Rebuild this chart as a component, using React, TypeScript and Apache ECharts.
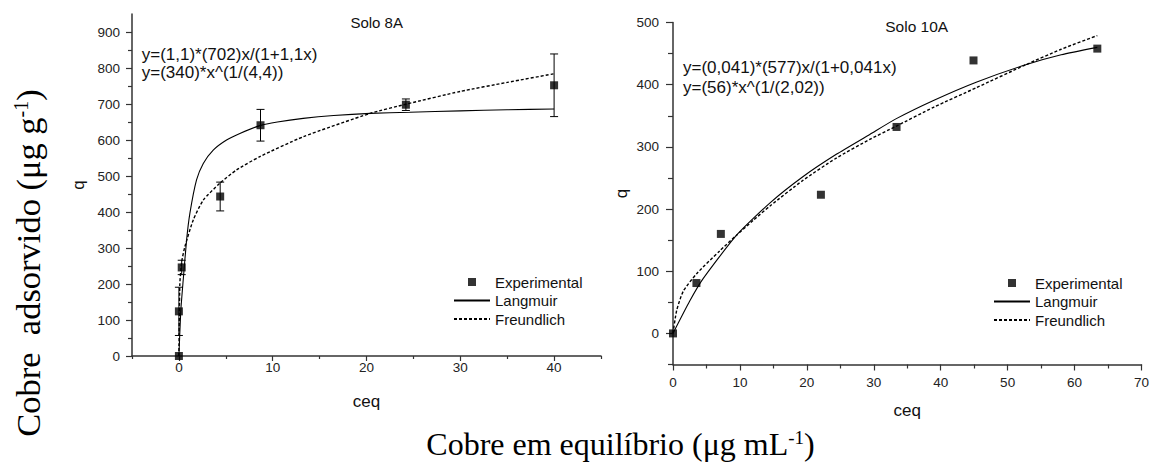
import React, { useEffect, useRef } from "react";
import * as echarts from "echarts";

// ---- Solo 8A (left) ----
const solo8Ceq = [0, 0, 0.3, 4.4, 8.7, 24.2, 40];
const solo8Q = [0, 124, 246, 443, 641, 698, 752];
const solo8Err = [0, 67, 20, 40, 44, 16, 87];
const solo8LangX = [0, 0.2, 0.46, 0.82, 1.17, 1.88, 2.6, 3.66, 5.08, 6.5, 8.64, 10.5, 13.25, 16.5, 20.4, 24.6, 30, 35, 40];
const solo8LangQ = [0, 125, 211, 322, 396, 489, 535, 572, 600, 618, 640, 650, 660, 668, 674, 677, 681, 684, 686];
const solo8FreX = [0, 0.1, 0.3, 0.64, 1.53, 2.6, 4.37, 6.15, 8.64, 13.25, 20.4, 24.3, 30, 35, 40];
const solo8FreQ = [0, 200, 262, 304, 378, 433, 480, 517, 554, 609, 674, 700, 735, 760, 784];

// ---- Solo 10A (right) ----
const solo10Ceq = [0, 3.5, 7.15, 22.1, 33.4, 44.9, 63.4];
const solo10Q = [0, 81, 160, 223, 332, 439, 458];
const solo10LangX = [0, 2.5, 4.5, 9.5, 14.5, 19.4, 24.4, 29.4, 33.3, 39, 45.3, 52.7, 58, 63.4];
const solo10LangQ = [0, 52, 88, 158, 210, 252, 288, 320, 345, 375, 404, 432, 448, 460];
const solo10FreX = [0, 0.55, 1.54, 3.53, 7.0, 9.5, 12, 14.5, 19.4, 24.4, 29.4, 33.3, 39, 45.3, 52.7, 58, 63.4];
const solo10FreQ = [0, 37, 68, 96, 133, 158, 182, 205, 246, 282, 312, 333, 364, 395, 432, 457, 479];

// ---- ticks ----
const leftXMajor = [0, 10, 20, 30, 40];
const leftXMinor = [-5, 5, 15, 25, 35, 45];
const leftYMajor = [0, 100, 200, 300, 400, 500, 600, 700, 800, 900];
const leftYMinor = [50, 150, 250, 350, 450, 550, 650, 750, 850];
const rightXMajor = [0, 10, 20, 30, 40, 50, 60, 70];
const rightXMinor = [5, 15, 25, 35, 45, 55, 65];
const rightYMajor = [0, 100, 200, 300, 400, 500];
const rightYMinor = [-50, 50, 150, 250, 350, 450];

const legendNames = ["Experimental", "Langmuir", "Freundlich"];

const SANS = "Liberation Sans, Arial, sans-serif";
const SERIF = "Liberation Serif, Times New Roman, serif";
const AX = "#333";

function zip(xs: number[], ys: number[]) {
  return xs.map((x, i) => [x, ys[i]]);
}

function majorAxis(grid: number, min: number, max: number, ticks: number[], isX: boolean, opts: any) {
  return {
    type: "value",
    gridIndex: grid,
    min,
    max,
    position: isX ? "bottom" : "left",
    splitLine: { show: false },
    axisLine: { show: true, onZero: false, lineStyle: { color: AX, width: 1.5 } },
    axisTick: { show: true, customValues: ticks, length: opts.tickLen, lineStyle: { color: AX, width: 1.2 } },
    axisLabel: {
      show: true,
      customValues: ticks,
      margin: opts.margin,
      fontFamily: SANS,
      fontSize: 13.5,
      color: "#222",
    },
    name: opts.name,
    nameLocation: "middle",
    nameGap: opts.nameGap,
    nameTextStyle: { fontFamily: SANS, fontSize: 17, color: "#111" },
  };
}

function minorAxis(grid: number, min: number, max: number, ticks: number[], isX: boolean, len: number) {
  return {
    type: "value",
    gridIndex: grid,
    min,
    max,
    position: isX ? "bottom" : "left",
    offset: 0,
    splitLine: { show: false },
    axisLine: { show: false, onZero: false },
    axisTick: { show: true, customValues: ticks, length: len, lineStyle: { color: AX, width: 1.2 } },
    axisLabel: { show: false },
  };
}

function errorBarRender(params: any, api: any) {
  const x = api.value(0);
  const y = api.value(1);
  const e = api.value(2);
  if (!e) return null;
  const top = api.coord([x, y + e]);
  const bot = api.coord([x, y - e]);
  const hw = 4;
  const st = { stroke: "#000", lineWidth: 1 };
  return {
    type: "group",
    children: [
      { type: "line", shape: { x1: top[0], y1: top[1], x2: bot[0], y2: bot[1] }, style: st },
      { type: "line", shape: { x1: top[0] - hw, y1: top[1], x2: top[0] + hw, y2: top[1] }, style: st },
      { type: "line", shape: { x1: bot[0] - hw, y1: bot[1], x2: bot[0] + hw, y2: bot[1] }, style: st },
    ],
  };
}

function seriesFor(xi: number, yi: number, sx: number[], sq: number[], lx: number[], lq: number[], fx: number[], fq: number[], err?: number[]) {
  const out: any[] = [];
  out.push({
    name: "Langmuir",
    type: "line",
    xAxisIndex: xi,
    yAxisIndex: yi,
    data: zip(lx, lq),
    symbol: "none",
    smooth: 0.2,
    lineStyle: { color: "#000", width: 1.1, type: "solid" },
    itemStyle: { color: "#000" },
    z: 3,
  });
  out.push({
    name: "Freundlich",
    type: "line",
    xAxisIndex: xi,
    yAxisIndex: yi,
    data: zip(fx, fq),
    symbol: "none",
    smooth: 0.2,
    lineStyle: { color: "#000", width: 1.4, type: [3, 2] },
    itemStyle: { color: "#000" },
    z: 3,
  });
  if (err) {
    out.push({
      name: "errbar",
      type: "custom",
      xAxisIndex: xi,
      yAxisIndex: yi,
      data: sx.map((x, i) => [x, sq[i], err[i]]),
      renderItem: errorBarRender,
      encode: { x: 0, y: 1 },
      z: 4,
    });
  }
  out.push({
    name: "Experimental",
    type: "scatter",
    xAxisIndex: xi,
    yAxisIndex: yi,
    data: zip(sx, sq),
    symbol: "rect",
    symbolSize: 8,
    itemStyle: { color: "#000" },
    z: 5,
  });
  return out;
}

function legendAt(left: number, top: number) {
  return {
    orient: "vertical",
    left,
    top,
    padding: 0,
    itemWidth: 36,
    itemHeight: 8,
    itemGap: 3.5,
    selectedMode: false,
    data: [
      { name: legendNames[0], icon: "path://M0,0L8,0L8,8L0,8Z", itemStyle: { color: "#000" } },
      { name: legendNames[1], itemStyle: { color: "rgba(0,0,0,0)", borderWidth: 0 } },
      { name: legendNames[2], itemStyle: { color: "rgba(0,0,0,0)", borderWidth: 0 } },
    ],
    textStyle: { fontFamily: SANS, fontSize: 15, lineHeight: 15, color: "#111" },
  };
}

function txt(x: number, y: number, text: string, fontSize: number, align = "left") {
  return {
    type: "text",
    x,
    y,
    style: {
      text,
      fontFamily: SANS,
      fontSize,
      fill: "#111",
      align,
      verticalAlign: "middle",
    },
  };
}

export default function App() {
  const ref = useRef<HTMLDivElement>(null);
  useEffect(() => {
    if (!ref.current) return;
    const chart = echarts.init(ref.current, undefined, { renderer: "svg" });
    const option: any = {
      animation: false,
      backgroundColor: "#fff",
      textStyle: { fontFamily: SANS },
      grid: [
        { left: 132, top: 14, width: 469, height: 342 },
        { left: 673, top: 22.5, width: 470, height: 342 },
      ],
      xAxis: [
        majorAxis(0, -5, 45, leftXMajor, true, { tickLen: 5, margin: 4, name: "ceq", nameGap: 37 }),
        minorAxis(0, -5, 45, leftXMinor, true, 3),
        majorAxis(1, 0, 70, rightXMajor, true, { tickLen: 6, margin: 11, name: "ceq", nameGap: 37 }),
        minorAxis(1, 0, 70, rightXMinor, true, 4),
      ],
      yAxis: [
        majorAxis(0, 0, 950, leftYMajor, false, { tickLen: 6, margin: 12, name: "q", nameGap: 45 }),
        minorAxis(0, 0, 950, leftYMinor, false, 4),
        majorAxis(1, -50, 500, rightYMajor, false, { tickLen: 7, margin: 14, name: "q", nameGap: 43 }),
        minorAxis(1, -50, 500, rightYMinor, false, 5),
      ],
      legend: [legendAt(453, 274.5), legendAt(993, 275.5)],
      series: [
        ...seriesFor(0, 0, solo8Ceq, solo8Q, solo8LangX, solo8LangQ, solo8FreX, solo8FreQ, solo8Err),
        ...seriesFor(2, 2, solo10Ceq, solo10Q, solo10LangX, solo10LangQ, solo10FreX, solo10FreQ),
      ],
      graphic: [
        txt(376.7, 22.7, "Solo 8A", 15, "center"),
        txt(916.7, 26.7, "Solo 10A", 15.5, "center"),
        txt(141.7, 54, "y=(1,1)*(702)x/(1+1,1x)", 17),
        txt(141.7, 72.7, "y=(340)*x^(1/(4,4))", 17),
        txt(683, 67, "y=(0,041)*(577)x/(1+0,041x)", 17),
        txt(683, 87, "y=(56)*x^(1/(2,02))", 17),
        {
          type: "text",
          x: 28,
          y: 263,
          rotation: Math.PI / 2,
          style: {
            text: "{a|Cobre  adsorvido (μg g}{b|-1}{a|)}",
            align: "center",
            verticalAlign: "middle",
            fill: "#000",
            rich: {
              a: { fontFamily: SERIF, fontSize: 34.5, fill: "#000" },
              b: { fontFamily: SERIF, fontSize: 20, fill: "#000", verticalAlign: "top" },
            },
          },
        },
        {
          type: "text",
          x: 620.5,
          y: 444,
          style: {
            text: "{a|Cobre em equilíbrio (μg mL}{b|-1}{a|)}",
            align: "center",
            verticalAlign: "middle",
            fill: "#000",
            rich: {
              a: { fontFamily: SERIF, fontSize: 32, fill: "#000" },
              b: { fontFamily: SERIF, fontSize: 19, fill: "#000", verticalAlign: "top" },
            },
          },
        },
      ],
    };
    chart.setOption(option);
    return () => chart.dispose();
  }, []);
  return (
    <div
      ref={ref}
      style={{ position: "fixed", left: 0, top: 0, width: 1152, height: 464, background: "#fff" }}
    />
  );
}
